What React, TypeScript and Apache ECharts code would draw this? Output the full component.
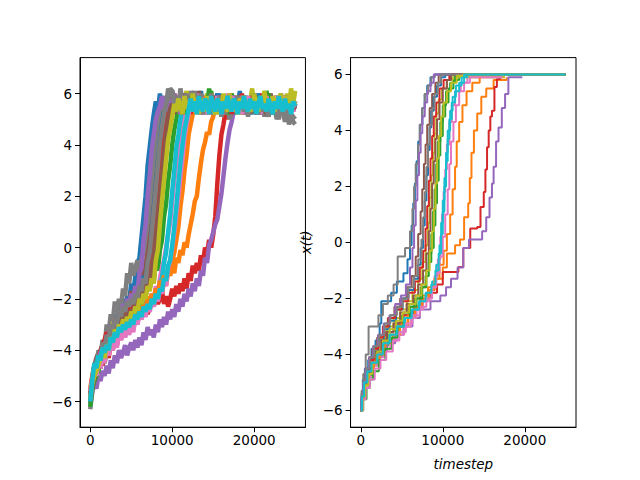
import React, { useEffect, useRef } from "react";
import * as echarts from "echarts";

// ---- sample times of the noisy runs (left panel) ----
const TIMESTEPS = [
  0,250,500,750,1000,1250,1500,1750,2000,2250,
  2500,2750,3000,3250,3500,3750,4000,4250,4500,4750,
  5000,5250,5500,5750,6000,6250,6500,6750,7000,7250,
  7500,7750,8000,8250,8500,8750,9000,9250,9500,9750,
  10000,10250,10500,10750,11000,11250,11500,11750,12000,12250,
  12500,12750,13000,13250,13500,13750,14000,14250,14500,14750,
  15000,15250,15500,15750,16000,16250,16500,16750,17000,17250,
  17500,17750,18000,18250,18500,18750,19000,19250,19500,19750,
  20000,20250,20500,20750,21000,21250,21500,21750,22000,22250,
  22500,22750,23000,23250,23500,23750,24000,24250,24500,24750,
  25000,
];

// ---- noisy trajectories x(t), left panel ----
const walk0 = [-6.0,-5.1,-4.6,-4.9,-4.3,-4.6,-3.8,-4.1,-3.4,-3.8, -2.9,-3.3,-2.6,-3.0,-2.3,-2.7,-2.0,-2.5,-1.9,-2.1, -1.4,-1.8,-1.1,-0.6,-0.4,0.4,1.2,2.0,3.2,3.9, 4.6,5.2,5.7,5.3,6.0,5.4,5.8,5.2,5.9,5.5, 6.1,5.4,5.7,5.1,5.8,5.5,6.0,5.3,5.6,5.2, 5.9,5.4,5.7,5.3,6.1,5.5,5.8,5.2,5.6,5.9, 5.3,5.7,5.4,6.0,5.5,5.2,5.8,5.4,5.9,5.6, 5.2,5.8,5.5,6.1,5.4,5.7,5.3,5.9,5.5,5.2, 5.7,5.4,6.0,5.6,5.3,5.8,5.5,5.1,5.7,5.4, 5.9,5.3,5.6,5.2,5.8,5.5,5.9,5.3,5.6,5.4, 5.7];
const walk1 = [-5.7,-5.2,-4.8,-5.0,-4.5,-4.7,-4.2,-4.4,-3.9,-4.2, -3.7,-3.9,-3.4,-3.7,-3.2,-3.5,-3.0,-3.3,-2.8,-3.1, -2.7,-3.0,-2.5,-2.8,-2.4,-2.7,-2.2,-2.5,-2.0,-2.4, -1.9,-2.2,-1.7,-2.0,-1.5,-1.8,-1.2,-1.5,-0.9,-1.1, -0.7,-1.0,-0.4,-0.6,-0.1,-0.3,0.2,0.0,0.5,0.9, 1.3,1.8,2.0,2.7,3.3,3.8,4.1,4.5,4.4,4.9, 5.1,5.6,5.3,5.9,5.4,5.7,5.2,5.8,5.5,6.0, 5.3,5.7,5.4,5.9,5.2,5.6,5.8,5.3,5.7,5.5, 6.0,5.4,5.6,5.2,5.9,5.5,5.7,5.3,5.8,5.4, 5.6,5.9,5.3,5.7,5.5,5.2,5.8,5.4,6.0,5.5, 5.6];
const walk2 = [-5.8,-5.2,-4.9,-4.6,-4.5,-4.2,-4.1,-3.8,-3.6,-3.9, -3.3,-3.6,-3.1,-3.4,-2.8,-3.1,-2.7,-3.0,-2.5,-2.8, -2.3,-2.6,-2.0,-2.3,-1.8,-2.1,-1.6,-1.9,-1.3,-1.6, -1.0,-1.3,-0.6,-0.9,-0.1,0.3,1.2,1.7,2.6,3.2, 4.0,4.6,5.0,5.5,5.2,5.8,5.4,5.9,5.3,5.6, 6.0,5.4,5.7,5.2,5.9,5.5,5.3,5.8,5.6,6.1, 5.4,5.7,5.2,5.8,5.5,5.9,5.3,5.6,5.4,6.0, 5.5,5.2,5.7,5.4,5.9,5.6,5.3,5.8,5.5,5.7, 5.3,5.9,5.5,5.2,5.8,5.4,6.1,5.6,5.3,5.7, 5.5,5.9,5.4,5.7,5.2,5.6,5.8,5.3,5.6,5.4, 5.5];
const walk3 = [-5.9,-5.4,-5.1,-4.8,-4.7,-4.4,-4.6,-4.2,-4.0,-4.3, -3.7,-4.0,-3.5,-3.8,-3.3,-3.6,-3.1,-3.4,-2.9,-3.2, -2.8,-3.1,-2.6,-2.9,-2.4,-2.7,-2.5,-2.2,-2.6,-2.3, -2.0,-2.3,-1.9,-2.2,-2.0,-1.7,-2.2,-1.9,-2.3,-2.0, -1.6,-1.9,-1.5,-1.8,-1.4,-1.7,-1.2,-1.6,-1.0,-1.3, -0.7,-1.0,-0.6,-0.9,-0.3,-0.6,0.0,-0.2,0.3,0.0, 0.5,1.2,2.5,3.6,4.4,4.8,5.3,5.0,5.6,5.3, 5.8,5.4,5.7,5.3,6.0,5.5,5.2,5.8,5.6,5.4, 5.9,5.3,5.7,5.5,5.2,5.8,5.4,6.0,5.6,5.3, 5.7,5.4,5.9,5.5,5.2,5.8,5.6,5.3,5.7,5.5, 5.6];
const walk4 = [-6.1,-5.6,-5.3,-5.5,-5.0,-5.2,-4.8,-5.0,-4.6,-4.9, -4.4,-4.7,-4.2,-4.5,-4.0,-4.3,-4.1,-3.8,-4.2,-3.9, -3.7,-4.0,-3.6,-3.9,-3.5,-3.8,-3.3,-3.6,-3.1,-3.4, -3.2,-3.5,-3.0,-3.3,-2.8,-3.1,-2.7,-3.0,-2.5,-2.8, -2.4,-2.7,-2.2,-2.5,-2.0,-2.3,-1.8,-2.1,-1.6,-1.9, -1.4,-1.7,-1.2,-1.5,-0.9,-1.1,-0.4,-0.6,0.1,0.3, 0.6,0.9,1.1,1.6,2.1,2.8,3.5,4.1,4.6,4.9, 5.3,5.7,5.4,5.9,5.2,5.6,5.8,5.3,5.7,5.4, 6.0,5.5,5.2,5.7,5.4,5.9,5.6,5.3,5.8,5.5, 5.2,5.7,5.4,6.0,5.6,5.3,5.8,5.5,5.9,5.4, 5.7];
const walk5 = [-5.8,-5.0,-4.6,-4.3,-4.1,-4.4,-3.8,-4.0,-3.5,-3.7, -3.1,-3.4,-2.8,-3.1,-2.6,-2.9,-2.3,-2.6,-2.0,-2.3, -1.7,-2.0,-1.5,-1.8,-1.2,-1.4,-0.6,-0.9,0.2,0.7, 1.8,2.7,3.4,4.3,4.8,5.5,5.2,5.8,5.4,5.9, 5.5,5.2,5.8,5.6,6.0,5.3,5.7,5.4,5.9,5.5, 5.2,5.7,5.5,6.1,5.4,5.6,5.3,5.9,5.5,5.8, 5.3,5.6,5.9,5.4,5.7,5.2,5.8,5.5,6.0,5.4, 5.7,5.3,5.6,5.9,5.5,5.2,5.8,5.4,5.7,5.5, 5.9,5.3,5.6,5.4,5.8,5.2,5.7,5.5,6.0,5.4, 5.6,5.3,5.8,5.5,5.2,5.7,5.4,5.9,5.5,5.3, 5.6];
const walk6 = [-5.6,-5.1,-4.8,-5.0,-4.5,-4.7,-4.2,-4.5,-4.0,-4.2, -3.7,-4.0,-3.6,-3.9,-3.3,-3.6,-3.2,-3.5,-3.1,-3.4, -3.0,-3.3,-2.7,-3.0,-2.5,-2.8,-2.3,-2.6,-2.1,-2.4, -1.8,-2.1,-1.5,-1.8,-1.2,-0.8,-0.5,0.0,0.5,1.0, 1.8,2.6,3.3,4.0,4.6,5.0,5.5,5.2,5.8,5.4, 5.7,5.3,6.0,5.5,5.2,5.8,5.6,5.4,5.9,5.3, 5.6,5.9,5.4,5.7,5.2,5.8,5.5,6.0,5.3,5.7, 5.5,5.2,5.8,5.4,5.9,5.6,5.3,5.7,5.5,6.0, 5.4,5.7,5.2,5.9,5.5,5.3,5.8,5.6,5.4,5.7, 5.3,5.9,5.5,5.6,5.2,5.8,5.4,5.7,5.5,5.3, 5.6];
const walk7 = [-6.3,-5.6,-4.8,-5.1,-4.0,-4.3,-3.6,-3.9,-3.0,-3.3, -2.6,-2.9,-2.1,-2.5,-2.0,-2.3,-1.6,-1.9,-1.0,-1.4, -0.6,-1.1,-0.8,-0.5,-1.0,-0.4,-0.2,0.4,1.0,1.7, 2.6,3.4,4.0,4.7,5.2,5.6,5.9,5.5,6.2,5.7, 6.1,5.6,5.9,5.4,6.0,5.7,5.3,5.9,5.5,6.1, 5.6,5.4,5.8,5.6,6.0,5.3,5.7,5.5,5.9,5.2, 5.6,5.8,5.4,5.7,5.1,5.6,5.3,5.5,5.0,5.3, 5.7,5.4,5.9,5.5,5.2,5.8,5.4,5.6,5.3,5.7, 5.5,5.2,5.8,5.4,5.6,5.1,5.5,5.3,5.7,5.2, 5.4,5.0,5.5,5.2,5.3,4.9,5.2,4.8,5.1,4.9, 4.8];
const walk8 = [-5.7,-5.2,-4.9,-4.6,-4.3,-4.5,-4.0,-3.7,-3.4,-3.6, -3.2,-3.0,-2.8,-3.1,-2.6,-2.9,-2.4,-2.7,-2.3,-2.5, -2.1,-2.3,-1.8,-2.0,-1.5,-1.8,-1.3,-1.5,-1.0,-0.8, -0.4,0.4,1.0,2.0,2.7,3.6,4.3,4.9,5.4,5.1, 5.7,5.4,5.9,5.5,5.2,5.8,5.6,6.1,5.3,5.7, 5.5,5.9,5.4,5.6,5.2,5.8,5.5,6.0,5.3,5.7, 5.4,5.9,5.2,5.6,5.8,5.4,5.7,5.3,6.0,5.5, 5.7,5.3,5.8,5.5,5.2,5.9,5.6,5.4,5.7,6.2, 5.5,5.3,5.8,5.6,5.4,5.9,5.2,5.7,5.5,5.8, 5.3,5.6,5.9,5.4,5.7,5.5,6.0,5.3,5.6,5.5, 5.7];
const walk9 = [-5.8,-5.2,-4.9,-4.5,-4.2,-4.4,-3.9,-4.1,-3.6,-3.9, -3.3,-3.6,-3.2,-3.5,-3.0,-3.3,-2.8,-3.1,-2.7,-3.0, -2.6,-2.9,-2.3,-2.6,-2.2,-2.5,-2.1,-2.4,-2.0,-2.3, -1.9,-2.1,-1.7,-1.8,-1.4,-1.2,-0.6,-0.2,0.6,1.3, 2.2,3.0,3.9,4.4,5.0,5.4,5.8,5.3,5.7,5.4, 5.9,5.2,5.6,5.5,5.8,5.3,5.7,5.4,5.9,5.6, 5.2,5.7,5.5,5.8,5.3,5.6,5.4,5.9,5.7,5.2, 5.6,5.5,5.8,5.3,5.7,5.4,5.9,5.6,5.2,5.7, 5.5,5.8,5.3,5.6,5.9,5.4,5.7,5.2,5.6,5.5, 5.8,5.3,5.7,5.4,5.9,5.5,5.2,5.6,5.8,5.4, 5.6];
const walk10 = [-6.0,-5.4,-4.7,-4.9,-4.2,-4.4,-3.9,-4.1,-3.4,-3.7, -3.0,-3.3,-2.8,-3.0,-2.5,-2.8,-2.4,-2.6,-2.2,-2.4, -1.9,-2.2,-1.7,-1.9,-1.4,-1.7,-1.1,-1.4,-0.6,-0.8, 0.6,1.5,2.4,3.3,4.2,4.8,5.3,5.0,5.8,5.4, 5.9,5.5,5.7,5.3,6.0,5.6,5.4,5.8,5.2,5.7, 5.5,6.0,5.3,5.7,5.6,5.2,5.9,5.4,5.8,5.5, 5.3,5.7,6.0,5.4,5.6,5.2,5.8,5.5,5.9,5.4, 5.6,5.2,5.8,5.5,5.3,5.9,5.6,5.4,5.7,5.5, 6.0,5.4,5.7,5.2,5.8,5.5,5.3,5.9,5.6,5.4, 5.7,5.5,5.2,5.8,5.4,5.6,5.9,5.3,5.7,5.5, 5.4];
const walk11 = [-5.5,-5.0,-4.7,-4.9,-4.4,-4.6,-4.1,-4.3,-3.7,-4.0, -3.5,-3.7,-3.3,-3.6,-3.1,-3.3,-3.0,-3.2,-2.8,-3.0, -2.6,-2.9,-2.5,-2.7,-2.3,-2.6,-2.2,-2.4,-1.9,-2.2, -1.8,-2.0,-1.6,-1.8,-1.3,-1.5,-1.1,-1.3,-0.8,-1.0, -0.5,-0.2,0.3,0.8,1.6,2.2,3.0,3.6,4.4,4.8, 5.2,5.6,5.3,5.8,5.4,5.9,5.2,5.7,5.5,6.0, 5.4,5.8,5.3,5.6,5.9,5.5,5.2,5.7,5.4,5.8, 5.5,5.9,5.3,5.6,5.4,5.8,5.2,5.7,5.5,5.9, 5.4,5.6,5.2,5.8,5.5,5.7,5.3,5.9,5.6,5.4, 5.8,5.5,5.2,5.7,5.4,5.9,5.6,5.3,5.7,5.5, 5.5];
const walk12 = [-6.2,-5.5,-5.2,-5.0,-4.8,-4.5,-4.3,-4.5,-3.9,-4.1, -3.6,-3.8,-3.3,-3.5,-3.0,-3.2,-2.8,-3.0,-2.7,-2.9, -2.5,-2.7,-2.2,-2.4,-2.0,-2.2,-1.7,-1.9,-1.4,-1.6, -0.9,-0.6,0.1,0.9,1.8,2.7,3.4,4.1,4.7,5.1, 5.4,5.8,5.3,5.7,5.5,6.0,5.2,5.6,5.9,5.4, 5.7,5.3,5.8,5.5,5.9,5.2,5.6,5.4,6.2,5.5, 5.7,5.4,5.8,5.3,5.6,5.9,5.5,5.2,5.7,5.4, 5.6,5.9,5.3,5.7,5.5,5.8,5.2,5.6,5.4,5.9, 5.5,5.2,5.7,5.4,5.8,5.6,5.3,6.0,5.5,5.7, 5.4,5.8,5.2,5.6,5.5,5.9,5.3,5.7,5.4,5.6, 5.6];
const walk13 = [-5.7,-5.1,-4.8,-4.6,-4.4,-4.0,-3.8,-3.6,-3.3,-3.5, -3.1,-3.3,-2.8,-3.0,-2.7,-2.9,-2.4,-2.6,-2.3,-2.5, -2.2,-2.4,-2.0,-2.1,-1.7,-1.9,-1.5,-1.7,-1.2,-1.0, -0.5,0.2,1.1,1.9,2.7,3.5,4.4,4.9,5.3,5.6, 5.8,6.0,5.5,5.8,5.3,5.7,5.4,5.9,5.6,5.2, 5.8,5.5,5.7,5.3,5.9,5.6,5.4,5.8,5.2,5.6, 5.5,5.8,5.4,5.6,5.9,5.3,5.7,5.5,5.8,5.2, 5.6,5.4,5.9,5.5,5.7,5.3,5.8,5.6,5.4,5.9, 5.5,5.2,5.7,5.4,6.0,5.6,5.3,5.8,5.5,5.7, 5.3,5.6,5.8,5.4,5.7,5.2,5.6,5.5,5.9,5.4, 5.6];
const walk14 = [-5.9,-5.3,-5.0,-4.7,-4.4,-4.1,-3.9,-4.1,-3.5,-3.7, -3.0,-3.3,-2.8,-3.0,-2.5,-2.7,-2.2,-2.5,-2.0,-2.2, -1.8,-2.0,-1.5,-1.7,-1.0,-0.8,0.3,0.9,2.0,2.8, 3.8,4.4,5.0,5.3,5.5,5.9,5.4,5.7,5.3,5.8, 5.5,6.0,5.4,5.6,5.2,5.9,5.5,5.7,5.4,5.8, 5.3,5.6,5.9,5.5,5.2,5.7,5.4,5.8,5.6,5.3, 5.7,5.5,5.9,5.4,5.6,5.2,5.8,5.5,5.7,5.3, 5.9,5.6,5.4,5.7,5.5,5.9,5.2,5.6,5.4,5.8, 5.5,5.3,5.7,5.6,5.9,5.4,5.6,5.2,5.8,5.5, 5.7,5.4,5.6,5.9,5.3,5.5,5.8,5.2,5.6,5.5, 5.5];
const walk15 = [-6.0,-5.4,-5.1,-4.8,-4.5,-4.7,-4.1,-3.9,-3.7,-3.9, -3.3,-3.5,-3.1,-3.3,-2.8,-3.0,-2.6,-2.8,-2.5,-2.7, -2.4,-2.6,-2.1,-2.3,-1.9,-2.1,-1.6,-1.8,-1.3,-1.5, -0.8,-0.3,0.4,1.2,2.0,2.9,3.7,4.4,5.0,5.4, 5.6,5.3,5.9,5.5,5.7,5.2,6.0,5.6,5.4,5.8, 5.3,5.7,5.5,5.9,5.4,5.6,5.2,5.8,5.5,5.3, 5.7,5.9,5.4,5.6,5.8,5.2,5.5,5.7,5.3,5.6, 5.4,5.8,5.5,5.3,5.7,5.9,5.4,5.6,5.2,5.8, 5.6,5.3,5.7,5.5,5.9,5.4,5.2,5.7,5.5,5.8, 5.4,5.6,5.3,5.8,5.5,5.2,5.7,5.4,5.6,5.5, 5.4];
const walk16 = [-5.6,-5.1,-4.8,-5.0,-4.5,-4.7,-4.3,-4.5,-3.9,-4.2, -3.8,-4.0,-3.5,-3.8,-3.4,-3.6,-3.2,-3.5,-3.1,-3.3, -3.0,-3.2,-2.8,-3.0,-2.6,-2.8,-2.5,-2.7,-2.3,-2.5, -2.1,-2.3,-1.9,-2.1,-1.6,-1.8,-1.3,-1.5,-0.8,-0.5, 0.0,0.6,1.3,2.0,2.8,3.5,4.3,4.8,5.2,5.6, 5.4,5.8,5.3,5.6,5.9,5.5,5.2,5.7,5.4,5.8, 5.6,5.3,5.9,5.5,5.7,5.2,5.8,5.4,5.6,5.9, 5.3,5.7,5.5,5.8,5.2,5.6,5.4,5.9,5.5,5.7, 5.4,5.8,5.6,5.2,5.7,5.5,5.9,5.3,5.6,5.4, 5.8,5.5,5.3,5.7,5.4,5.9,5.6,5.2,5.7,5.5, 5.6];
const walk17 = [-5.8,-5.2,-4.8,-4.6,-4.2,-4.4,-3.7,-3.9,-3.4,-3.6, -3.0,-3.2,-2.8,-3.0,-2.4,-2.7,-2.3,-2.5,-2.1,-2.3, -2.0,-2.2,-1.8,-2.0,-1.5,-1.7,-1.2,-1.4,-0.6,-0.2, 0.6,1.4,2.3,3.2,4.1,4.7,5.2,5.6,5.8,6.2, 6.1,5.6,5.9,5.4,6.2,5.7,5.5,6.0,5.3,5.8, 5.6,6.1,5.4,5.7,5.9,5.2,5.6,5.8,5.4,6.0, 5.5,5.7,5.3,5.9,5.5,5.6,5.2,5.8,5.4,5.6, 5.8,5.4,5.9,5.5,5.7,5.3,5.6,5.1,5.5,5.3, 5.7,5.4,5.2,5.6,5.3,5.8,5.4,5.1,5.5,5.2, 5.6,5.3,5.0,5.4,5.2,5.5,5.1,5.3,4.9,5.1, 5.0];
const walk18 = [-5.9,-5.3,-5.0,-4.8,-4.6,-4.3,-4.1,-4.3,-3.8,-4.0, -3.5,-3.7,-3.2,-3.4,-3.0,-3.2,-2.8,-3.0,-2.7,-2.9, -2.5,-2.7,-2.3,-2.5,-2.0,-2.2,-1.8,-2.0,-1.5,-1.7, -1.2,-1.4,-0.5,-0.1,0.9,1.8,2.6,3.4,4.2,4.6, 5.1,5.6,5.3,5.8,5.5,5.2,5.9,5.4,5.7,5.3, 6.0,5.5,5.7,5.2,5.8,5.6,5.3,5.9,5.4,5.7, 5.5,5.2,5.8,5.6,5.4,6.0,5.5,5.3,5.9,5.6, 5.7,5.4,5.2,5.8,5.6,5.9,5.4,5.7,5.3,5.5, 6.0,5.5,5.3,5.9,5.6,6.1,5.4,5.7,5.5,5.9, 5.3,5.8,5.6,6.0,5.4,5.7,5.9,5.5,6.2,5.6, 6.1];
const walk19 = [-6.0,-5.2,-4.5,-4.7,-4.2,-4.4,-3.9,-4.1,-3.8,-4.0, -3.5,-3.7,-3.3,-3.5,-3.1,-3.3,-3.0,-3.2,-2.9,-3.1, -2.8,-3.0,-2.6,-2.8,-2.5,-2.7,-2.3,-2.5,-2.2,-2.4, -2.0,-2.2,-1.8,-2.0,-1.6,-1.7,-1.2,-1.3,-0.7,-0.5, 0.1,0.8,1.6,2.5,3.3,4.0,4.6,5.0,5.4,5.8, 5.3,5.7,5.2,5.9,5.5,5.3,5.8,5.6,5.2,5.9, 5.5,5.3,5.8,5.6,5.2,5.7,5.4,5.9,5.5,5.3, 5.8,5.6,5.2,5.7,5.4,5.9,5.5,5.3,5.8,5.4, 5.7,5.2,5.6,5.9,5.4,5.6,5.3,5.8,5.5,5.2, 5.7,5.4,5.9,5.5,5.3,5.8,5.4,5.6,5.2,5.7, 5.5];

// ---- staircase trajectories [timestep, x], right panel ----
const best0 = [[0,-6],[100,-5.4],[250,-4.9],[500,-4.5],[900,-4.2],[1300,-3.8],[1800,-3.5],[2300,-2.9],[2500,-2.1],[3700,-1.8],[4400,-1.4],[5200,-1.1],[5700,-0.6],[6000,-0.1],[6200,0.6],[6400,1.4],[6600,2.1],[6800,2.9],[7000,3.6],[7200,4.2],[7500,4.8],[7800,5.3],[8100,5.6],[8500,5.9],[9000,6.0],[25000,6.0]];
const best1 = [[0,-6],[150,-5.5],[400,-5.0],[700,-4.6],[1200,-4.3],[2000,-4.0],[2800,-3.6],[3600,-3.3],[4700,-3.0],[5800,-2.7],[6600,-2.4],[7200,-1.9],[8200,-1.6],[9000,-1.3],[10000,-0.9],[10500,-0.4],[11500,-0.1],[12100,0.1],[12600,0.9],[13100,1.4],[13300,2.3],[13500,3.2],[13800,4.0],[14200,4.6],[14700,5.2],[15300,5.5],[16200,5.8],[17800,5.9]];
const best2 = [[0,-6],[200,-5.5],[500,-5.1],[900,-4.8],[1300,-4.4],[2000,-4.1],[2600,-3.7],[3300,-3.3],[4300,-2.9],[5000,-2.6],[5800,-2.3],[6500,-2.0],[7300,-1.6],[7900,-1.2],[8300,-0.7],[8600,-0.2],[8900,0.6],[9100,1.4],[9300,2.2],[9500,3.1],[9700,3.8],[10000,4.5],[10300,5.0],[10700,5.5],[11300,5.8],[12000,6.0],[25000,6.0]];
const best3 = [[0,-6],[100,-5.5],[300,-5.0],[600,-4.6],[1000,-4.3],[1500,-3.9],[2200,-3.5],[3000,-3.2],[4000,-2.9],[5200,-2.6],[6500,-2.3],[7500,-2.0],[8500,-1.8],[9300,-1.5],[10000,-1.06],[11900,-0.88],[12500,-0.2],[13350,0.5],[14200,0.55],[14600,1.26],[15000,1.8],[15200,2.6],[15400,3.4],[15600,4.0],[15800,4.5],[16000,4.7],[16300,5.55],[16600,5.84],[17000,6.0],[25000,6.0]];
const best4 = [[0,-6],[150,-5.5],[300,-5.1],[500,-4.8],[900,-4.5],[1500,-4.2],[2300,-3.9],[3200,-3.6],[4200,-3.3],[5200,-3.0],[6300,-2.7],[7200,-2.4],[8500,-2.1],[9700,-1.9],[10400,-1.6],[11000,-1.3],[11800,-0.9],[12500,-0.2],[13200,0.1],[14800,0.4],[15300,0.9],[15700,1.6],[16000,2.1],[16200,2.7],[16500,3.6],[16800,4.1],[17200,4.8],[17600,5.3],[18000,5.9],[19700,5.9]];
const best5 = [[0,-6],[150,-5.4],[300,-5.0],[600,-4.5],[1000,-4.1],[1400,-3.8],[2000,-3.4],[2700,-3.0],[3300,-2.7],[4100,-2.3],[4800,-2.0],[5600,-1.6],[6200,-1.2],[6700,-0.5],[7000,0.3],[7300,1.1],[7500,1.9],[7700,2.8],[7900,3.5],[8100,4.2],[8400,4.8],[8700,5.3],[9100,5.7],[9500,6.0],[25000,6.0]];
const best6 = [[0,-6],[200,-5.6],[500,-5.2],[1000,-4.8],[1500,-4.4],[2000,-4.1],[2800,-3.8],[3600,-3.5],[4500,-3.3],[5300,-3.0],[6100,-2.7],[6800,-2.4],[7600,-2.1],[8400,-1.7],[9000,-1.2],[9400,-0.6],[9700,0.2],[9900,1.0],[10100,1.8],[10300,2.6],[10500,3.5],[10800,4.3],[11100,4.9],[11500,5.4],[12200,5.7],[13000,5.9],[17500,5.9]];
const best7 = [[0,-6],[100,-5.3],[300,-4.7],[600,-4.0],[950,-3.0],[2150,-2.6],[2700,-2.2],[3300,-1.9],[4000,-1.5],[4500,-0.5],[5400,-0.2],[6000,0.4],[6300,1.2],[6500,2.0],[6700,2.8],[7000,3.5],[7200,4.2],[7500,4.8],[7800,5.3],[8200,5.6],[8600,5.9],[9000,6.0],[25000,6.0]];
const best8 = [[0,-6],[150,-5.5],[400,-5.0],[800,-4.6],[1200,-4.2],[1800,-3.8],[2500,-3.4],[3200,-3.0],[4000,-2.7],[4800,-2.4],[5600,-2.1],[6300,-1.7],[7000,-1.3],[7500,-0.7],[7900,-0.1],[8200,0.7],[8400,1.6],[8600,2.4],[8800,3.2],[9000,3.9],[9200,4.6],[9500,5.1],[9900,5.5],[10500,5.8],[11200,5.9],[17600,5.9]];
const best9 = [[0,-6],[200,-5.5],[500,-5.0],[900,-4.6],[1400,-4.3],[2000,-3.9],[2800,-3.6],[3600,-3.3],[4400,-3.0],[5400,-2.7],[6300,-2.4],[7200,-2.1],[8000,-1.8],[8700,-1.4],[9200,-0.8],[9600,-0.1],[9800,0.7],[10000,1.5],[10200,2.3],[10400,3.2],[10600,4.0],[10900,4.7],[11200,5.2],[11600,5.6],[12300,5.9],[13000,6.0],[25000,6.0]];
const best10 = [[0,-6],[100,-5.6],[300,-5.1],[600,-4.7],[1000,-4.2],[1500,-3.9],[2100,-3.5],[2800,-3.1],[3500,-2.8],[4300,-2.4],[5100,-2.0],[5800,-1.7],[6500,-1.3],[7000,-0.8],[7300,-0.2],[7600,0.6],[7800,1.5],[8000,2.4],[8200,3.3],[8400,4.1],[8600,4.7],[8900,5.2],[9300,5.6],[9800,5.9],[10300,6.0],[25000,6.0]];
const best11 = [[0,-6],[200,-5.5],[500,-5.1],[1000,-4.7],[1600,-4.3],[2300,-4.0],[3000,-3.6],[3900,-3.3],[4800,-2.9],[5700,-2.6],[6600,-2.3],[7500,-2.0],[8300,-1.7],[9000,-1.3],[9600,-0.8],[10100,-0.3],[10500,0.3],[10900,1.0],[11200,1.9],[11500,2.7],[11700,3.6],[12000,4.3],[12400,4.9],[12900,5.4],[13600,5.7],[14500,6.0],[25000,6.0]];
const best12 = [[0,-6],[300,-5.6],[700,-5.2],[1100,-4.9],[1500,-4.6],[2200,-4.2],[3000,-3.8],[3800,-3.4],[4500,-3.0],[5200,-2.7],[6000,-2.3],[6800,-2.0],[7500,-1.6],[8000,-1.0],[8300,-0.4],[8600,0.3],[8800,1.1],[9000,1.9],[9200,2.8],[9400,3.6],[9700,4.3],[10000,4.9],[10400,5.4],[10900,5.7],[11500,6.0],[25000,6.0]];
const best13 = [[0,-6],[150,-5.5],[400,-5.0],[700,-4.6],[1100,-4.2],[1600,-3.8],[2100,-3.4],[2700,-3.0],[3400,-2.7],[4200,-2.4],[5000,-2.1],[5800,-1.8],[6600,-1.4],[7200,-0.9],[7600,-0.3],[7900,0.5],[8100,1.3],[8300,2.2],[8500,3.0],[8700,3.8],[8900,4.5],[9200,5.0],[9600,5.5],[10100,5.8],[10800,6.0],[25000,6.0]];
const best14 = [[0,-6],[100,-5.5],[300,-5.0],[600,-4.5],[1000,-4.1],[1500,-3.7],[2100,-3.3],[2800,-2.9],[3500,-2.6],[4200,-2.2],[4900,-1.9],[5500,-1.5],[6000,-0.9],[6300,-0.2],[6500,0.6],[6700,1.5],[6900,2.4],[7100,3.2],[7300,3.9],[7500,4.5],[7800,5.0],[8100,5.4],[8500,5.7],[8900,6.0],[25000,6.0]];
const best15 = [[0,-6],[200,-5.5],[450,-5.1],[800,-4.7],[1300,-4.3],[1900,-3.9],[2500,-3.5],[3200,-3.2],[4000,-2.9],[4800,-2.5],[5600,-2.2],[6400,-1.9],[7000,-1.5],[7600,-1.0],[8000,-0.4],[8300,0.4],[8500,1.2],[8700,2.1],[8900,2.9],[9100,3.7],[9300,4.4],[9600,5.0],[10000,5.5],[10500,5.8],[11000,6.0],[25000,6.0]];
const best16 = [[0,-6],[250,-5.6],[600,-5.2],[1100,-4.9],[1700,-4.5],[2400,-4.2],[3100,-3.9],[3900,-3.5],[4700,-3.2],[5500,-2.9],[6300,-2.6],[7200,-2.3],[8000,-2.0],[8700,-1.6],[9200,-1.1],[9600,-0.5],[10000,0.2],[10300,1.0],[10600,1.9],[10800,2.8],[11000,3.6],[11300,4.3],[11600,4.9],[12000,5.4],[12600,5.7],[13300,5.9],[17300,5.9]];
const best17 = [[0,-6],[150,-5.4],[400,-4.9],[700,-4.5],[1100,-4.1],[1600,-3.7],[2200,-3.3],[2900,-2.9],[3600,-2.6],[4400,-2.3],[5100,-2.0],[5800,-1.6],[6500,-1.2],[7000,-0.6],[7400,0.1],[7600,0.9],[7800,1.8],[8000,2.7],[8200,3.5],[8400,4.2],[8700,4.8],[9000,5.3],[9400,5.7],[9800,6.0],[25000,6.0]];
const best18 = [[0,-6],[200,-5.5],[500,-5.1],[900,-4.7],[1400,-4.3],[2000,-3.9],[2700,-3.5],[3500,-3.1],[4300,-2.8],[5100,-2.5],[5900,-2.2],[6700,-1.9],[7400,-1.5],[8000,-1.0],[8400,-0.3],[8700,0.4],[8900,1.2],[9100,2.1],[9300,3.0],[9500,3.8],[9800,4.5],[10100,5.0],[10500,5.4],[11000,5.7],[11700,5.95],[12500,6.0],[25000,6.0]];
const best19 = [[0,-6],[150,-5.5],[400,-5.0],[800,-4.6],[1300,-4.3],[2000,-4.0],[2700,-3.6],[3500,-3.3],[4400,-3.0],[5300,-2.7],[6200,-2.4],[7100,-2.1],[7900,-1.8],[8600,-1.5],[9100,-1.0],[9500,-0.4],[9800,0.3],[10000,1.1],[10200,2.0],[10400,2.9],[10600,3.7],[10800,4.4],[11100,5.0],[11500,5.4],[12000,5.7],[12600,6.0],[25000,6.0]];

const WALKS = [walk0,walk1,walk2,walk3,walk4,walk5,walk6,walk7,walk8,walk9,walk10,walk11,walk12,walk13,walk14,walk15,walk16,walk17,walk18,walk19];
const BESTS = [best0,best1,best2,best3,best4,best5,best6,best7,best8,best9,best10,best11,best12,best13,best14,best15,best16,best17,best18,best19];

const Y_TICKS = [-6, -4, -2, 0, 2, 4, 6];
const X_TICKS = [0, 10000, 20000];

const TAB10 = ["#1f77b4","#ff7f0e","#2ca02c","#d62728","#9467bd","#8c564b","#e377c2","#7f7f7f","#bcbd22","#17becf"];

const FONT = "DejaVu Sans";

const fmt = (v: number) => String(v).replace("-", "\u2212");

function makeXAxis(gridIndex: number, withName: boolean) {
  return {
    gridIndex,
    type: "value",
    min: -1250,
    max: 26250,
    splitLine: { show: false },
    axisLine: { show: true, onZero: false, lineStyle: { color: "#000", width: 1 } },
    axisTick: { show: true, length: 5, customValues: X_TICKS, lineStyle: { color: "#000", width: 1 } },
    axisLabel: { customValues: X_TICKS, margin: 6, color: "#000", fontSize: 13.5, fontFamily: FONT, formatter: fmt },
    name: withName ? "timestep" : "",
    nameLocation: "middle",
    nameGap: 30,
    nameTextStyle: { fontStyle: "italic", fontSize: 13.5, fontFamily: FONT, color: "#000" },
  };
}

function makeYAxis(gridIndex: number, min: number, max: number, withName: boolean) {
  return {
    gridIndex,
    type: "value",
    min,
    max,
    splitLine: { show: false },
    axisLine: { show: true, onZero: false, lineStyle: { color: "#000", width: 1 } },
    axisTick: { show: true, length: 5, customValues: Y_TICKS, lineStyle: { color: "#000", width: 1 } },
    axisLabel: { customValues: Y_TICKS, margin: 8, color: "#000", fontSize: 13.5, fontFamily: FONT, formatter: fmt },
    name: withName ? "x(t)" : "",
    nameLocation: "middle",
    nameGap: 38,
    nameTextStyle: { fontStyle: "italic", fontSize: 13.5, fontFamily: FONT, color: "#000" },
  };
}

export default function App() {
  const ref = useRef<HTMLDivElement>(null);
  useEffect(() => {
    if (!ref.current) return;
    const chart = echarts.init(ref.current, undefined, { renderer: "svg" });
    const series: any[] = [];
    WALKS.forEach((w, i) => {
      series.push({
        type: "line",
        xAxisIndex: 0,
        yAxisIndex: 0,
        data: w.map((v, k) => [TIMESTEPS[k], v]),
        showSymbol: false,
        symbol: "none",
        lineStyle: { color: TAB10[i % 10], width: 4.5, join: "miter", miterLimit: 2 },
        itemStyle: { color: TAB10[i % 10] },
      });
    });
    BESTS.forEach((b, i) => {
      series.push({
        type: "line",
        xAxisIndex: 1,
        yAxisIndex: 1,
        data: b,
        step: "end",
        showSymbol: false,
        symbol: "none",
        lineStyle: { color: TAB10[i % 10], width: 2 },
        itemStyle: { color: TAB10[i % 10] },
      });
    });
    chart.setOption({
      animation: false,
      backgroundColor: "#fff",
      grid: [
        { left: 80, top: 57.6, width: 225.45, height: 369.6, show: true, borderColor: "#000", borderWidth: 1, backgroundColor: "transparent" },
        { left: 350.55, top: 57.6, width: 225.45, height: 369.6, show: true, borderColor: "#000", borderWidth: 1, backgroundColor: "transparent" },
      ],
      xAxis: [makeXAxis(0, false), makeXAxis(1, true)],
      yAxis: [makeYAxis(0, -7.0, 7.4, false), makeYAxis(1, -6.6, 6.6, true)],
      series,
    });
    return () => chart.dispose();
  }, []);
  return (
    <div
      ref={ref}
      style={{ position: "absolute", left: 0, top: 0, width: 640, height: 480 }}
    />
  );
}
